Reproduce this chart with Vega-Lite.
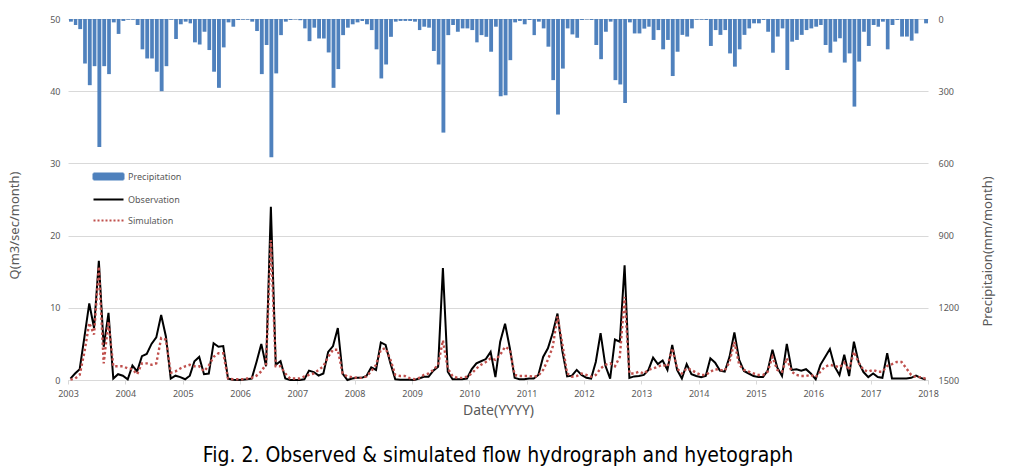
{
 "$schema": "https://vega.github.io/schema/vega-lite/v6.json",
 "width": 860, "height": 361,
 "autosize": "none",
 "padding": {"left": 68, "top": 19, "right": 82, "bottom": 93},
 "background": "white",
 "config": {"view": {"stroke": null}, "font": "Noto Sans", "axis": {"labelColor": "#595959", "titleColor": "#595959", "labelFontSize": 9, "titleFontWeight": "normal"}},
 "title": {"text": "Fig. 2. Observed & simulated flow hydrograph and hyetograph", "orient": "bottom", "anchor": "middle", "font": "'Liberation Sans Narrow', 'DejaVu Sans Condensed', 'Noto Sans', sans-serif", "fontSize": 21, "fontWeight": "normal", "color": "#000000", "offset": 28},
 "datasets": {"m": [
{"d":"2003/01/01","p":11,"o":0.2,"s":0.05},{"d":"2003/02/01","p":25,"o":0.9,"s":0.2},{"d":"2003/03/01","p":42,"o":1.5,"s":0.7},{"d":"2003/04/01","p":185,"o":6.0,"s":3.9},{"d":"2003/05/01","p":275,"o":10.6,"s":7.9},{"d":"2003/06/01","p":196,"o":7.2,"s":6.3},{"d":"2003/07/01","p":532,"o":16.5,"s":15.7},{"d":"2003/08/01","p":196,"o":4.6,"s":2.3},{"d":"2003/09/01","p":229,"o":9.3,"s":8.1},{"d":"2003/10/01","p":14,"o":0.2,"s":1.9},{"d":"2003/11/01","p":62,"o":0.8,"s":1.9},{"d":"2003/12/01","p":8,"o":0.6,"s":1.9},
{"d":"2004/01/01","p":3,"o":0.1,"s":1.6},{"d":"2004/02/01","p":3,"o":2.0,"s":1.5},{"d":"2004/03/01","p":25,"o":1.2,"s":0.8},{"d":"2004/04/01","p":126,"o":3.3,"s":2.3},{"d":"2004/05/01","p":164,"o":3.6,"s":2.3},{"d":"2004/06/01","p":164,"o":5.0,"s":2.1},{"d":"2004/07/01","p":219,"o":5.9,"s":2.3},{"d":"2004/08/01","p":300,"o":9.0,"s":5.8},{"d":"2004/09/01","p":196,"o":6.0,"s":5.6},{"d":"2004/10/01","p":3,"o":0.2,"s":1.0},{"d":"2004/11/01","p":83,"o":0.6,"s":1.2},{"d":"2004/12/01","p":22,"o":0.4,"s":1.6},
{"d":"2005/01/01","p":11,"o":0.1,"s":1.9},{"d":"2005/02/01","p":18,"o":0.6,"s":2.1},{"d":"2005/03/01","p":97,"o":2.6,"s":1.9},{"d":"2005/04/01","p":106,"o":3.2,"s":1.9},{"d":"2005/05/01","p":53,"o":0.8,"s":1.2},{"d":"2005/06/01","p":129,"o":0.9,"s":2.0},{"d":"2005/07/01","p":219,"o":5.1,"s":3.2},{"d":"2005/08/01","p":286,"o":4.6,"s":3.7},{"d":"2005/09/01","p":118,"o":4.7,"s":3.7},{"d":"2005/10/01","p":14,"o":0.2,"s":0.2},{"d":"2005/11/01","p":32,"o":0.05,"s":0.1},{"d":"2005/12/01","p":4,"o":0.0,"s":0.1},
{"d":"2006/01/01","p":3,"o":0.05,"s":0.1},{"d":"2006/02/01","p":3,"o":0.1,"s":0.2},{"d":"2006/03/01","p":11,"o":0.2,"s":0.3},{"d":"2006/04/01","p":50,"o":2.5,"s":0.6},{"d":"2006/05/01","p":229,"o":5.0,"s":1.2},{"d":"2006/06/01","p":108,"o":1.9,"s":2.2},{"d":"2006/07/01","p":574,"o":24.0,"s":19.4},{"d":"2006/08/01","p":226,"o":2.1,"s":1.9},{"d":"2006/09/01","p":67,"o":2.6,"s":1.9},{"d":"2006/10/01","p":11,"o":0.2,"s":0.9},{"d":"2006/11/01","p":4,"o":0.0,"s":0.2},{"d":"2006/12/01","p":2,"o":0.0,"s":0.2},
{"d":"2007/01/01","p":5,"o":0.0,"s":0.2},{"d":"2007/02/01","p":39,"o":0.1,"s":0.5},{"d":"2007/03/01","p":92,"o":1.3,"s":0.7},{"d":"2007/04/01","p":36,"o":1.1,"s":0.9},{"d":"2007/05/01","p":81,"o":0.6,"s":1.4},{"d":"2007/06/01","p":81,"o":0.9,"s":1.9},{"d":"2007/07/01","p":139,"o":3.9,"s":3.2},{"d":"2007/08/01","p":286,"o":4.7,"s":4.2},{"d":"2007/09/01","p":208,"o":7.2,"s":4.2},{"d":"2007/10/01","p":67,"o":0.9,"s":0.9},{"d":"2007/11/01","p":36,"o":0.0,"s":0.5},{"d":"2007/12/01","p":22,"o":0.2,"s":0.4},
{"d":"2008/01/01","p":14,"o":0.3,"s":0.3},{"d":"2008/02/01","p":8,"o":0.3,"s":0.3},{"d":"2008/03/01","p":22,"o":0.55,"s":0.5},{"d":"2008/04/01","p":46,"o":1.75,"s":1.2},{"d":"2008/05/01","p":126,"o":1.4,"s":2.1},{"d":"2008/06/01","p":247,"o":5.2,"s":4.2},{"d":"2008/07/01","p":189,"o":4.85,"s":4.4},{"d":"2008/08/01","p":74,"o":2.3,"s":2.8},{"d":"2008/09/01","p":11,"o":0.1,"s":0.7},{"d":"2008/10/01","p":8,"o":0.05,"s":0.55},{"d":"2008/11/01","p":8,"o":0.05,"s":0.55},{"d":"2008/12/01","p":8,"o":0.05,"s":0.25},
{"d":"2009/01/01","p":11,"o":0.0,"s":0.1},{"d":"2009/02/01","p":46,"o":0.2,"s":0.3},{"d":"2009/03/01","p":32,"o":0.45,"s":0.7},{"d":"2009/04/01","p":36,"o":0.45,"s":0.9},{"d":"2009/05/01","p":133,"o":1.3,"s":1.4},{"d":"2009/06/01","p":189,"o":1.85,"s":2.1},{"d":"2009/07/01","p":472,"o":15.5,"s":5.5},{"d":"2009/08/01","p":67,"o":1.15,"s":1.6},{"d":"2009/09/01","p":25,"o":0.1,"s":0.55},{"d":"2009/10/01","p":53,"o":0.1,"s":0.3},{"d":"2009/11/01","p":39,"o":0.1,"s":0.3},{"d":"2009/12/01","p":39,"o":0.2,"s":0.45},
{"d":"2010/01/01","p":46,"o":1.5,"s":0.9},{"d":"2010/02/01","p":97,"o":2.3,"s":1.6},{"d":"2010/03/01","p":67,"o":2.6,"s":2.1},{"d":"2010/04/01","p":74,"o":2.9,"s":2.5},{"d":"2010/05/01","p":136,"o":3.9,"s":3.0},{"d":"2010/06/01","p":32,"o":0.4,"s":2.8},{"d":"2010/07/01","p":321,"o":5.3,"s":3.5},{"d":"2010/08/01","p":317,"o":7.8,"s":4.6},{"d":"2010/09/01","p":171,"o":4.4,"s":4.2},{"d":"2010/10/01","p":14,"o":0.3,"s":0.7},{"d":"2010/11/01","p":8,"o":0.1,"s":0.55},{"d":"2010/12/01","p":22,"o":0.1,"s":0.55},
{"d":"2011/01/01","p":4,"o":0.2,"s":0.55},{"d":"2011/02/01","p":67,"o":0.2,"s":0.45},{"d":"2011/03/01","p":11,"o":0.7,"s":0.6},{"d":"2011/04/01","p":39,"o":3.2,"s":1.4},{"d":"2011/05/01","p":115,"o":4.4,"s":2.8},{"d":"2011/06/01","p":254,"o":6.5,"s":4.6},{"d":"2011/07/01","p":397,"o":9.2,"s":8.8},{"d":"2011/08/01","p":206,"o":4.0,"s":5.0},{"d":"2011/09/01","p":39,"o":0.5,"s":0.9},{"d":"2011/10/01","p":64,"o":0.6,"s":0.45},{"d":"2011/11/01","p":78,"o":1.4,"s":0.55},{"d":"2011/12/01","p":4,"o":0.7,"s":0.9},
{"d":"2012/01/01","p":2,"o":0.3,"s":0.7},{"d":"2012/02/01","p":4,"o":0.2,"s":0.45},{"d":"2012/03/01","p":108,"o":2.5,"s":0.7},{"d":"2012/04/01","p":167,"o":6.5,"s":1.6},{"d":"2012/05/01","p":53,"o":2.0,"s":2.1},{"d":"2012/06/01","p":11,"o":0.2,"s":2.3},{"d":"2012/07/01","p":254,"o":5.6,"s":1.9},{"d":"2012/08/01","p":272,"o":5.3,"s":3.2},{"d":"2012/09/01","p":349,"o":15.9,"s":11.5},{"d":"2012/10/01","p":14,"o":0.3,"s":0.9},{"d":"2012/11/01","p":60,"o":0.5,"s":0.9},{"d":"2012/12/01","p":60,"o":0.55,"s":1.15},
{"d":"2013/01/01","p":40,"o":0.7,"s":0.9},{"d":"2013/02/01","p":32,"o":1.4,"s":1.4},{"d":"2013/03/01","p":87,"o":3.1,"s":1.6},{"d":"2013/04/01","p":46,"o":2.2,"s":1.85},{"d":"2013/05/01","p":126,"o":2.7,"s":2.1},{"d":"2013/06/01","p":87,"o":1.4,"s":1.85},{"d":"2013/07/01","p":237,"o":4.85,"s":4.4},{"d":"2013/08/01","p":136,"o":1.4,"s":1.6},{"d":"2013/09/01","p":66,"o":0.2,"s":0.9},{"d":"2013/10/01","p":73,"o":2.2,"s":1.6},{"d":"2013/11/01","p":39,"o":0.8,"s":1.4},{"d":"2013/12/01","p":3,"o":0.55,"s":1.0},
{"d":"2014/01/01","p":3,"o":0.4,"s":0.7},{"d":"2014/02/01","p":4,"o":0.55,"s":0.7},{"d":"2014/03/01","p":112,"o":3.0,"s":1.15},{"d":"2014/04/01","p":46,"o":2.4,"s":1.5},{"d":"2014/05/01","p":66,"o":1.3,"s":1.4},{"d":"2014/06/01","p":46,"o":1.15,"s":1.3},{"d":"2014/07/01","p":143,"o":3.2,"s":2.5},{"d":"2014/08/01","p":198,"o":6.6,"s":5.3},{"d":"2014/09/01","p":126,"o":2.8,"s":2.1},{"d":"2014/10/01","p":66,"o":1.25,"s":1.4},{"d":"2014/11/01","p":39,"o":0.9,"s":1.15},{"d":"2014/12/01","p":18,"o":0.55,"s":0.9},
{"d":"2015/01/01","p":18,"o":0.4,"s":0.7},{"d":"2015/02/01","p":4,"o":0.4,"s":0.7},{"d":"2015/03/01","p":53,"o":1.3,"s":1.15},{"d":"2015/04/01","p":140,"o":4.2,"s":3.2},{"d":"2015/05/01","p":73,"o":1.75,"s":1.4},{"d":"2015/06/01","p":39,"o":0.55,"s":1.15},{"d":"2015/07/01","p":212,"o":5.0,"s":3.0},{"d":"2015/08/01","p":94,"o":1.4,"s":1.15},{"d":"2015/09/01","p":87,"o":1.5,"s":0.7},{"d":"2015/10/01","p":66,"o":1.3,"s":0.55},{"d":"2015/11/01","p":46,"o":1.5,"s":0.55},{"d":"2015/12/01","p":39,"o":0.9,"s":0.7},
{"d":"2016/01/01","p":32,"o":0.1,"s":0.4},{"d":"2016/02/01","p":25,"o":2.1,"s":1.15},{"d":"2016/03/01","p":108,"o":3.2,"s":1.85},{"d":"2016/04/01","p":140,"o":4.3,"s":2.1},{"d":"2016/05/01","p":94,"o":1.85,"s":1.95},{"d":"2016/06/01","p":80,"o":0.7,"s":1.75},{"d":"2016/07/01","p":181,"o":3.5,"s":2.4},{"d":"2016/08/01","p":143,"o":0.55,"s":1.4},{"d":"2016/09/01","p":364,"o":5.3,"s":3.9},{"d":"2016/10/01","p":177,"o":2.4,"s":2.4},{"d":"2016/11/01","p":53,"o":1.1,"s":1.4},{"d":"2016/12/01","p":112,"o":0.4,"s":1.15},
{"d":"2017/01/01","p":25,"o":0.9,"s":1.4},{"d":"2017/02/01","p":32,"o":0.4,"s":1.15},{"d":"2017/03/01","p":11,"o":0.3,"s":1.15},{"d":"2017/04/01","p":126,"o":3.7,"s":1.95},{"d":"2017/05/01","p":25,"o":0.2,"s":2.2},{"d":"2017/06/01","p":4,"o":0.2,"s":2.5},{"d":"2017/07/01","p":73,"o":0.2,"s":2.5},{"d":"2017/08/01","p":73,"o":0.2,"s":1.6},{"d":"2017/09/01","p":90,"o":0.3,"s":0.7},{"d":"2017/10/01","p":60,"o":0.6,"s":0.4},{"d":"2017/11/01","p":0,"o":0.3,"s":0.4},{"d":"2017/12/01","p":18,"o":0.05,"s":0.2}
 ]},
 "data": {"name": "m"},
 "layer": [
  {
   "mark": {"type": "bar", "color": "#4f81bd", "timeUnitBandSize": 0.84, "timeUnitBandPosition": 0.08},
   "encoding": {
    "x": {"field": "d", "type": "temporal", "timeUnit": "yearmonth",
          "scale": {"domain": [{"year": 2003, "month": 1, "date": 1}, {"year": 2018, "month": 1, "date": 1}], "nice": false},
          "axis": {"format": "%Y", "tickCount": {"interval": "year", "step": 1}, "title": "Date(YYYY)", "titleFontSize": 14, "titlePadding": 5, "labelPadding": 5, "tickSize": 4, "tickColor": "#d9d9d9", "domainColor": "#d9d9d9", "grid": false, "labelFlush": false, "labelOverlap": false}},
    "y": {"field": "p", "type": "quantitative",
          "scale": {"domain": [0, 1500], "reverse": true, "nice": false, "zero": true},
          "axis": {"orient": "right", "values": [0, 300, 600, 900, 1200, 1500], "format": "d", "title": "Precipitaion(mm/month)", "titleFontSize": 13, "titleAngle": 270, "titlePadding": 36, "titleY": 232, "grid": false, "ticks": false, "domain": false, "labelPadding": 10}},
    "color": {"datum": "Precipitation",
              "scale": {"domain": ["Precipitation", "Observation", "Simulation"], "range": ["#4f81bd", "#000000", "#c0504d"]},
              "legend": {"orient": "none", "legendX": 32, "legendY": 149, "title": null, "labelFontSize": 9, "labelColor": "#595959", "symbolSize": 225, "rowPadding": 7, "labelOffset": 11,
                "encode": {"symbols": {"update": {
                  "shape": {"signal": "datum.value === 'Precipitation' ? 'M-2,-0.4H2V0.4H-2Z' : 'M-2,0H2'"},
                  "fill": {"signal": "datum.value === 'Precipitation' ? '#4f81bd' : 'transparent'"},
                  "stroke": {"signal": "datum.value === 'Precipitation' ? 'transparent' : (datum.value === 'Observation' ? '#000000' : '#c0504d')"},
                  "strokeDash": {"signal": "datum.value === 'Simulation' ? [2, 2] : [1, 0]"},
                  "strokeWidth": {"value": 2},
                  "opacity": {"value": 1}}}}}}
   }
  },
  {
   "layer": [
    {
     "mark": {"type": "line", "strokeWidth": 2},
     "encoding": {
      "x": {"field": "d", "type": "temporal", "timeUnit": "yearmonth", "bandPosition": 0.5},
      "y": {"field": "o", "type": "quantitative", "scale": {"domain": [0, 50], "nice": false},
            "axis": {"orient": "left", "values": [0, 10, 20, 30, 40, 50], "title": "Q(m3/sec/month)", "titleFontSize": 13, "titlePadding": 28, "titleY": 206, "grid": true, "gridColor": "#d9d9d9", "ticks": false, "domain": false, "labelPadding": 8}},
      "color": {"datum": "Observation"}
     }
    },
    {
     "mark": {"type": "line", "strokeWidth": 2.4, "strokeDash": [2.4, 2.6]},
     "encoding": {
      "x": {"field": "d", "type": "temporal", "timeUnit": "yearmonth", "bandPosition": 0.5},
      "y": {"field": "s", "type": "quantitative"},
      "color": {"datum": "Simulation"}
     }
    }
   ]
  }
 ],
 "resolve": {"scale": {"y": "independent"}}
}
